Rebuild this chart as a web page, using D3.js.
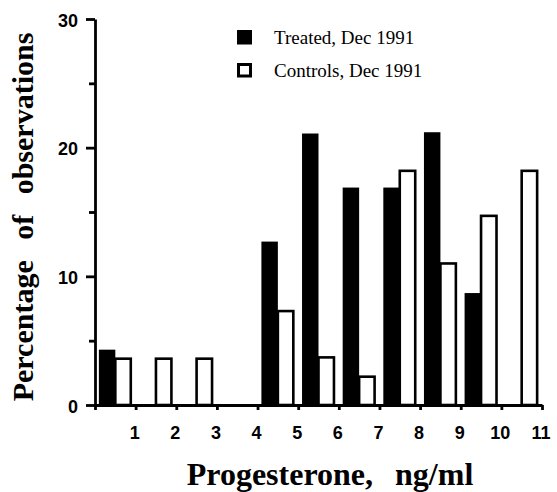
<!DOCTYPE html>
<html>
<head>
<meta charset="utf-8">
<script src="https://cdn.jsdelivr.net/npm/d3@7"></script>
<style>
  body { margin: 0; background: #fff; }
  .tick text { font-family: "Liberation Sans", Arial, sans-serif; font-size: 18px; font-weight: bold; fill: #000; }
  .axis path, .axis line { stroke: #000; stroke-width: 2.8; }
  .axis-title { font-family: "Liberation Serif", "Times New Roman", serif; font-weight: bold; fill: #000; }
  .legend text { font-family: "Liberation Serif", "Times New Roman", serif; font-size: 19px; fill: #000; }
</style>
</head>
<body>
<svg id="chart"></svg>
<script>
// Percentage of observations per progesterone bin (bin i spans i..i+1 ng/ml)
const bins = [0, 1, 2, 3, 4, 5, 6, 7, 8, 9, 10];
const treated = [4.3, 0, 0, 0, 12.7, 21.1, 16.9, 16.9, 21.2, 8.7, 0];
const controls = [3.6, 3.6, 3.6, 0, 7.3, 3.7, 2.2, 18.2, 11.0, 14.7, 18.2];
const xTicks = [0, 1, 2, 3, 4, 5, 6, 7, 8, 9, 10, 11];
const yMajor = [0, 10, 20, 30];
const yMinor = [5, 15, 25];
const seriesNames = ['Treated, Dec 1991', 'Controls, Dec 1991'];

const width = 557, height = 492;

const svg = d3.select('#chart')
    .attr('width', width)
    .attr('height', height);

const x = d3.scaleLinear().domain([0, 11]).range([95, 542]);
const y = d3.scaleLinear().domain([0, 30]).range([405, 19]);

// band per bin, then two bars inside each band
const xBin = d3.scaleBand()
    .domain(bins)
    .range([x(0), x(11)])
    .paddingInner(0.19)
    .paddingOuter(0.095)
    .align(0.5);

const xSub = d3.scaleBand()
    .domain(['treated', 'controls'])
    .range([0, xBin.bandwidth()]);

const data = bins.map((b, i) => ({bin: b, treated: treated[i], controls: controls[i]}));

// bars
const groups = svg.append('g').selectAll('g')
    .data(data)
  .join('g')
    .attr('transform', d => `translate(${xBin(d.bin)},0)`);

groups.filter(d => d.treated > 0).append('rect')
    .attr('x', xSub('treated'))
    .attr('width', xSub.bandwidth())
    .attr('y', d => y(d.treated))
    .attr('height', d => y(0) - y(d.treated))
    .attr('fill', '#000');

groups.filter(d => d.controls > 0).append('rect')
    .attr('x', xSub('controls'))
    .attr('width', xSub.bandwidth() - 1)
    .attr('y', d => y(d.controls))
    .attr('height', d => y(0) - y(d.controls))
    .attr('fill', '#fff')
    .attr('stroke', '#000')
    .attr('stroke-width', 2.6);

// axes
const yAxis = d3.axisLeft(y)
    .tickValues(yMajor)
    .tickSize(9)
    .tickPadding(8)
    .tickSizeOuter(0);

svg.append('g')
    .attr('class', 'axis y-axis')
    .attr('transform', `translate(${x(0)},0)`)
    .call(yAxis)
    .call(g => g.selectAll('.tick text').attr('dy', '0.4em'));

svg.append('g')
    .attr('class', 'axis y-minor')
    .attr('transform', `translate(${x(0)},0)`)
    .call(d3.axisLeft(y).tickValues(yMinor).tickSize(6).tickFormat('').tickSizeOuter(0))
    .call(g => g.select('.domain').remove());

const xAxis = d3.axisBottom(x)
    .tickValues(xTicks)
    .tickSize(5)
    .tickPadding(16)
    .tickSizeOuter(0)
    .tickFormat(d => d === 0 ? '' : d);

svg.append('g')
    .attr('class', 'axis x-axis')
    .attr('transform', `translate(0,${y(0)})`)
    .call(xAxis)
    .call(g => g.selectAll('.tick text').attr('dx', -1.5));

// axis titles
svg.append('text')
    .attr('class', 'axis-title')
    .attr('transform', 'translate(33,217) rotate(-90)')
    .attr('text-anchor', 'middle')
    .style('font-size', '30px')
    .style('word-spacing', '13px')
    .text('Percentage of observations');

svg.append('text')
    .attr('class', 'axis-title')
    .attr('x', 330)
    .attr('y', 485)
    .attr('text-anchor', 'middle')
    .style('font-size', '32px')
    .style('word-spacing', '14px')
    .text('Progesterone, ng/ml');

// legend
const legend = svg.append('g')
    .attr('class', 'legend')
    .attr('transform', 'translate(237,30)');

const rows = legend.selectAll('g')
    .data(seriesNames)
  .join('g')
    .attr('transform', (d, i) => `translate(0,${i * 33})`);

rows.append('rect')
    .attr('x', (d, i) => i ? 1.5 : 0)
    .attr('y', (d, i) => i ? 1.5 : 0)
    .attr('width', (d, i) => i ? 12 : 15)
    .attr('height', (d, i) => i ? 11.5 : 14.5)
    .attr('fill', (d, i) => i ? '#fff' : '#000')
    .attr('stroke', (d, i) => i ? '#000' : 'none')
    .attr('stroke-width', 3);

rows.append('text')
    .attr('x', 37)
    .attr('y', 13.5)
    .text(d => d);
</script>
</body>
</html>
